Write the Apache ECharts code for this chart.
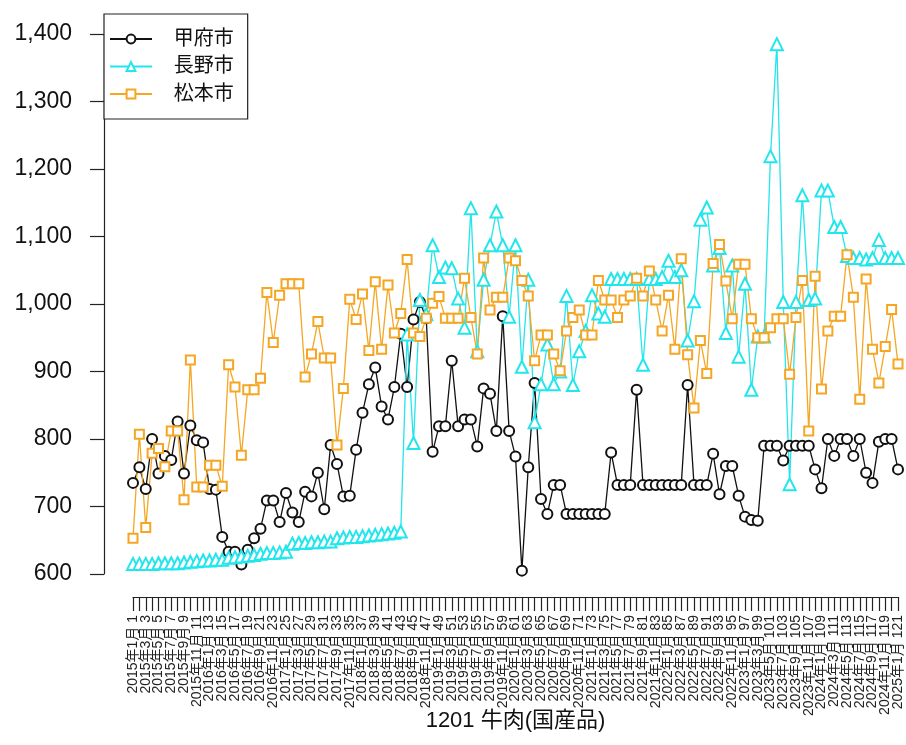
<!DOCTYPE html>
<html>
<head>
<meta charset="utf-8">
<script src="https://cdn.jsdelivr.net/npm/echarts@6/dist/echarts.min.js"></script>
<style>
html,body{margin:0;padding:0;background:#fff;}
#chart{width:906px;height:745px;}
</style>
</head>
<body>
<div id="chart"></div>
<script>
// ---- data ----
const startYear = 2015;
const monthCount = 121;
const categories = [];
for (let k = 0; k < monthCount; k++) {
  const y = startYear + Math.floor(k / 12);
  const m = (k % 12) + 1;
  categories.push(y + '年' + m + '月 ' + (k + 1));
}

const kofu = [
  735,758,726,800,749,775,769,826,749,820,
  798,795,726,725,655,633,633,614,636,653,
  667,709,709,677,720,691,677,722,715,750,
  696,791,763,715,716,784,839,881,906,848,
  829,877,956,877,977,1003,979,781,819,819,
  916,819,829,829,789,875,867,812,982,812,
  774,605,758,883,711,689,732,732,689,689,
  689,689,689,689,689,780,732,732,732,873,
  732,732,732,732,732,732,732,880,732,732,
  732,778,718,760,760,716,685,680,679,790,
  790,790,768,790,790,790,790,755,727,800,
  775,800,800,775,800,750,735,796,800,800,
  755
];

const nagano = [
  615,615,615,615,616,616,616,616,617,618,
  619,620,620,621,621,624,625,626,627,628,
  630,631,631,632,633,645,646,646,647,647,
  648,648,653,654,655,655,656,657,658,659,
  660,661,663,955,794,1006,985,1087,1040,1054,
  1053,1008,965,1142,930,1036,1087,1137,1087,981,
  1087,907,1036,825,881,940,881,900,1012,880,
  930,960,1013,986,981,1037,1037,1037,1037,1037,
  910,1037,1037,1040,1064,1040,1050,946,1004,1125,
  1143,1057,1083,957,1057,922,1030,873,952,952,
  1219,1385,1003,733,1003,1161,1006,1008,1168,1168,
  1114,1114,1071,1068,1068,1066,1068,1095,1068,1068,
  1068
];

const matsumoto = [
  653,807,669,779,786,759,812,812,710,917,
  729,729,761,761,730,910,877,776,873,873,
  890,1017,943,1013,1030,1030,1030,892,926,974,
  920,920,791,875,1007,977,1015,931,1033,933,
  1028,957,986,1066,957,952,979,1001,1011,979,
  979,979,1038,980,926,1068,991,1010,1010,1068,
  1064,1035,1012,916,954,954,926,901,960,980,
  991,954,954,1035,1006,1006,980,1006,1012,1038,
  1012,1049,1006,960,1013,933,1067,925,846,946,
  897,1060,1088,1034,978,1059,1059,978,950,950,
  965,978,978,896,980,1035,812,1041,874,960,
  982,982,1073,1010,859,1037,933,883,937,992,
  911
];

const seriesNames = ['甲府市', '長野市', '松本市'];
const yTicks = [600, 700, 800, 900, 1000, 1100, 1200, 1300, 1400];
const xTitle = '1201 牛肉(国産品)';

// ---- chart ----
const FONT = "'Liberation Sans', Arial, 'Noto Sans CJK JP', sans-serif";
const chart = echarts.init(document.getElementById('chart'), null, {renderer: 'canvas'});

function mkSeries(name, data, color, symbol, size) {
  return {
    name: name,
    type: 'line',
    data: data,
    symbol: symbol,
    symbolSize: size,
    showAllSymbol: true,
    animation: false,
    lineStyle: {color: color, width: 1.3},
    itemStyle: {color: color, borderWidth: 1.4},
    emphasis: {disabled: true}
  };
}

chart.setOption({
  backgroundColor: '#fff',
  animation: false,
  textStyle: {fontFamily: FONT},
  grid: {left: 133, right: 8, top: 34, bottom: 171, containLabel: false},
  legend: {
    orient: 'vertical',
    left: 104,
    top: 14,
    padding: [15, 14, 15, 5],
    itemWidth: 42,
    itemHeight: 11,
    itemGap: 7.5,
    borderColor: '#222',
    borderWidth: 1.2,
    borderRadius: 0,
    backgroundColor: '#fff',
    formatter: function (n) { return '   ' + n; },
    textStyle: {fontSize: 20, color: '#111', fontFamily: FONT},
    data: seriesNames
  },
  xAxis: {
    type: 'category',
    data: categories,
    boundaryGap: false,
    offset: 23,
    axisLine: {show: true, lineStyle: {color: '#222', width: 1.2}},
    axisTick: {show: true, interval: 0, length: 14, lineStyle: {color: '#222', width: 1.2}},
    axisLabel: {
      interval: 0,
      formatter: function (value, idx) { return idx % 2 === 0 ? value : ''; },
      hideOverlap: false,
      rotate: 90,
      margin: 18,
      fontSize: 14,
      color: '#222',
      fontFamily: FONT
    },
    splitLine: {show: false}
  },
  yAxis: {
    type: 'value',
    min: yTicks[0],
    max: yTicks[yTicks.length - 1],
    interval: 100,
    offset: 29,
    axisLine: {show: true, lineStyle: {color: '#222', width: 1.2}},
    axisTick: {show: true, length: 14, lineStyle: {color: '#222', width: 1.2}},
    axisLabel: {
      margin: 32,
      fontSize: 23,
      color: '#111',
      fontFamily: FONT,
      formatter: function (v) { return v.toLocaleString('en-US'); }
    },
    splitLine: {show: false}
  },
  graphic: [{
    type: 'text',
    style: {
      text: xTitle,
      x: 515.5,
      y: 721,
      textAlign: 'center',
      textVerticalAlign: 'middle',
      font: "22px " + FONT,
      fill: '#111'
    }
  }],
  series: [
    mkSeries(seriesNames[0], kofu, '#111111', 'emptyCircle', 10),
    mkSeries(seriesNames[1], nagano, '#22E6EC', 'emptyTriangle', 12),
    mkSeries(seriesNames[2], matsumoto, '#F5A623', 'emptyRect', 9)
  ]
});
</script>
</body>
</html>
